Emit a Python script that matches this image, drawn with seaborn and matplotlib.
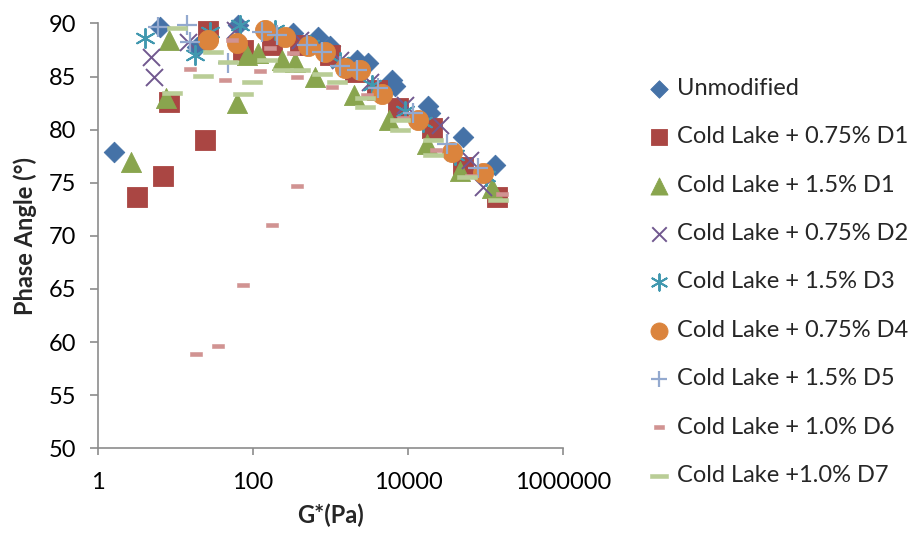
import numpy as np
import pandas as pd
import matplotlib
matplotlib.use("Agg")
import matplotlib.pyplot as plt
import seaborn as sns

# ---------------- data ----------------
series_names = [
    "Unmodified",
    "Cold Lake + 0.75% D1",
    "Cold Lake + 1.5% D1",
    "Cold Lake + 0.75% D2",
    "Cold Lake + 1.5% D3",
    "Cold Lake + 0.75% D4",
    "Cold Lake + 1.5% D5",
    "Cold Lake + 1.0% D6",
    "Cold Lake +1.0% D7",
]

unmod_g = [1.61, 6.3, 18.9, 64, 328, 690, 986, 2200, 3050, 6220, 6800, 18100, 19200, 51300, 133000]
unmod_p = [77.9, 89.7, 87.8, 89.9, 89.1, 88.7, 87.9, 86.6, 86.3, 84.7, 84.1, 82.2, 81.6, 79.3, 76.7]

d1a_g = [3.2, 6.9, 8.3, 24, 26, 74, 176, 404, 986, 2070, 3980, 7430, 20400, 51300, 141000]
d1a_p = [73.7, 75.6, 82.6, 79.0, 89.3, 87.5, 88.0, 88.0, 87.0, 85.4, 83.7, 82.0, 80.2, 76.5, 73.7]

d1b_g = [2.64, 7.5, 8.3, 61.5, 83, 116, 235, 347, 630, 2010, 5690, 17600, 46900, 120000]
d1b_p = [77.0, 83.0, 88.4, 82.5, 87.0, 87.2, 86.6, 86.4, 85.0, 83.3, 80.9, 78.7, 76.1, 74.5]

d2_g = [4.9, 5.3, 14.6, 59, 404, 1330, 3230, 9100, 25900, 63000, 93000]
d2_p = [86.8, 85.0, 88.3, 89.4, 88.4, 86.6, 84.5, 82.3, 80.4, 77.1, 74.6]

d3_g = [4.0, 18, 27.9, 68, 192, 544, 1330, 3430, 9100, 15500, 40000, 100000]
d3_p = [88.6, 87.0, 89.2, 89.9, 89.4, 88.0, 86.4, 84.2, 81.8, 80.7, 77.6, 75.6]

d4_g = [26, 62, 142, 258, 513, 850, 1540, 2400, 4580, 13500, 36600, 93000]
d4_p = [88.4, 88.2, 89.4, 88.7, 87.9, 87.3, 85.8, 85.6, 83.4, 80.9, 77.9, 75.9]

d5_g = [5.9, 14, 15.4, 47.5, 131, 204, 497, 780, 1330, 2200, 4100, 11600, 31800, 79900]
d5_p = [89.7, 89.9, 88.3, 86.3, 89.2, 88.9, 88.0, 87.3, 86.0, 85.6, 83.9, 81.6, 78.7, 76.4]

d6_g = [18.4, 35, 75, 175, 370, 15.4, 43.5, 53, 123, 166, 330, 365, 1035, 2960, 8620, 23000, 65000, 163000]
d6_p = [58.9, 59.6, 65.4, 71.0, 74.7, 85.7, 84.7, 88.4, 85.5, 87.7, 87.2, 85.0, 84.0, 83.3, 81.1, 78.1, 75.6, 73.9]

d7_g = [8.9, 10.4, 22.6, 30.5, 47.5, 75, 96, 150, 244, 404, 780, 1210, 2790, 2790, 7890, 7890, 21000, 21000, 57800, 145000]
d7_p = [83.5, 89.6, 85.1, 87.3, 86.4, 83.4, 84.5, 86.6, 85.6, 85.6, 85.2, 84.5, 83.0, 82.1, 80.9, 80.0, 79.0, 77.6, 75.5, 73.4]

all_g = [unmod_g, d1a_g, d1b_g, d2_g, d3_g, d4_g, d5_g, d6_g, d7_g]
all_p = [unmod_p, d1a_p, d1b_p, d2_p, d3_p, d4_p, d5_p, d6_p, d7_p]

x_ticks = [1, 100, 10000, 1000000]
x_tick_labels = ["1", "100", "10000", "1000000"]
y_ticks = [50, 55, 60, 65, 70, 75, 80, 85, 90]

# ---------------- styles ----------------
colors = ["#4572A7", "#AA4643", "#89A54E", "#71588F", "#4198AF",
          "#DB843D", "#93A9CF", "#D19392", "#B9CD96"]
dash_short = [(-1, -0.42), (1, -0.42), (1, 0.42), (-1, 0.42), (-1, -0.42)]
dash_long = [(-1, -0.22), (1, -0.22), (1, 0.22), (-1, 0.22), (-1, -0.22)]
markers = ["D", "s", "^", "x", (6, 2, 0), "o", "+", dash_short, dash_long]
sizes = [110, 200, 210, 150, 190, 210, 200, 70, 210]
lws = [0.6, 0.6, 0.6, 1.4, 1.4, 0.6, 1.6, 0.4, 0.4]
filled = [True, True, True, False, False, True, False, True, True]

frames = []
for name, g, p in zip(series_names, all_g, all_p):
    frames.append(pd.DataFrame({"G": g, "Phase": p, "Series": name}))
df = pd.concat(frames, ignore_index=True)

sns.set_theme(style="white")
plt.rcParams["font.family"] = ["Lato", "DejaVu Sans"]

fig = plt.figure(figsize=(9.08, 5.36), dpi=100)
ax = fig.add_axes([98 / 908, 1 - 448.3 / 536, (563 - 98) / 908, (448.3 - 23.5) / 536])

for i, name in enumerate(series_names):
    sub = df[df["Series"] == name]
    kw = dict(data=sub, x="G", y="Phase", ax=ax, marker=markers[i], s=sizes[i],
              color=colors[i], label=name, clip_on=False, zorder=3 + i)
    if filled[i]:
        kw.update(edgecolor=colors[i], linewidth=lws[i])
    else:
        kw.update(linewidth=lws[i])
    sns.scatterplot(**kw)

ax.set_xscale("log")
ax.set_xlim(1, 1000000)
ax.set_ylim(50, 90)
ax.set_xticks(x_ticks)
ax.set_xticklabels(x_tick_labels)
ax.xaxis.set_minor_locator(matplotlib.ticker.NullLocator())
ax.set_yticks(y_ticks)
ax.set_yticklabels([str(v) for v in y_ticks])

for s in ["top", "right"]:
    ax.spines[s].set_visible(False)
for s in ["left", "bottom"]:
    ax.spines[s].set_color("#8C8C8C")
    ax.spines[s].set_linewidth(1.2)

ax.tick_params(axis="y", direction="out", length=6, width=1.2, color="#8C8C8C",
               labelsize=17, pad=10, labelcolor="black", left=True)
ax.tick_params(axis="x", direction="out", length=5, width=1.2, color="#8C8C8C",
               labelsize=17, pad=12, labelcolor="black", bottom=True)
ax.grid(False)

ax.set_xlabel("G*(Pa)", fontsize=17, fontweight="bold", labelpad=8)
ax.set_ylabel("Phase Angle (°)", fontsize=17, fontweight="bold", labelpad=8)

if ax.legend_:
    ax.legend_.remove()
handles, labels = ax.get_legend_handles_labels()
leg = fig.legend(handles, labels, loc="center left",
                 bbox_to_anchor=(647 / 908, 1 - 282 / 536),
                 frameon=False, fontsize=17, labelspacing=1.16,
                 handlelength=1.0, handletextpad=0.25, borderpad=0,
                 borderaxespad=0, markerscale=0.85)

fig.savefig("out.png", dpi=100)
